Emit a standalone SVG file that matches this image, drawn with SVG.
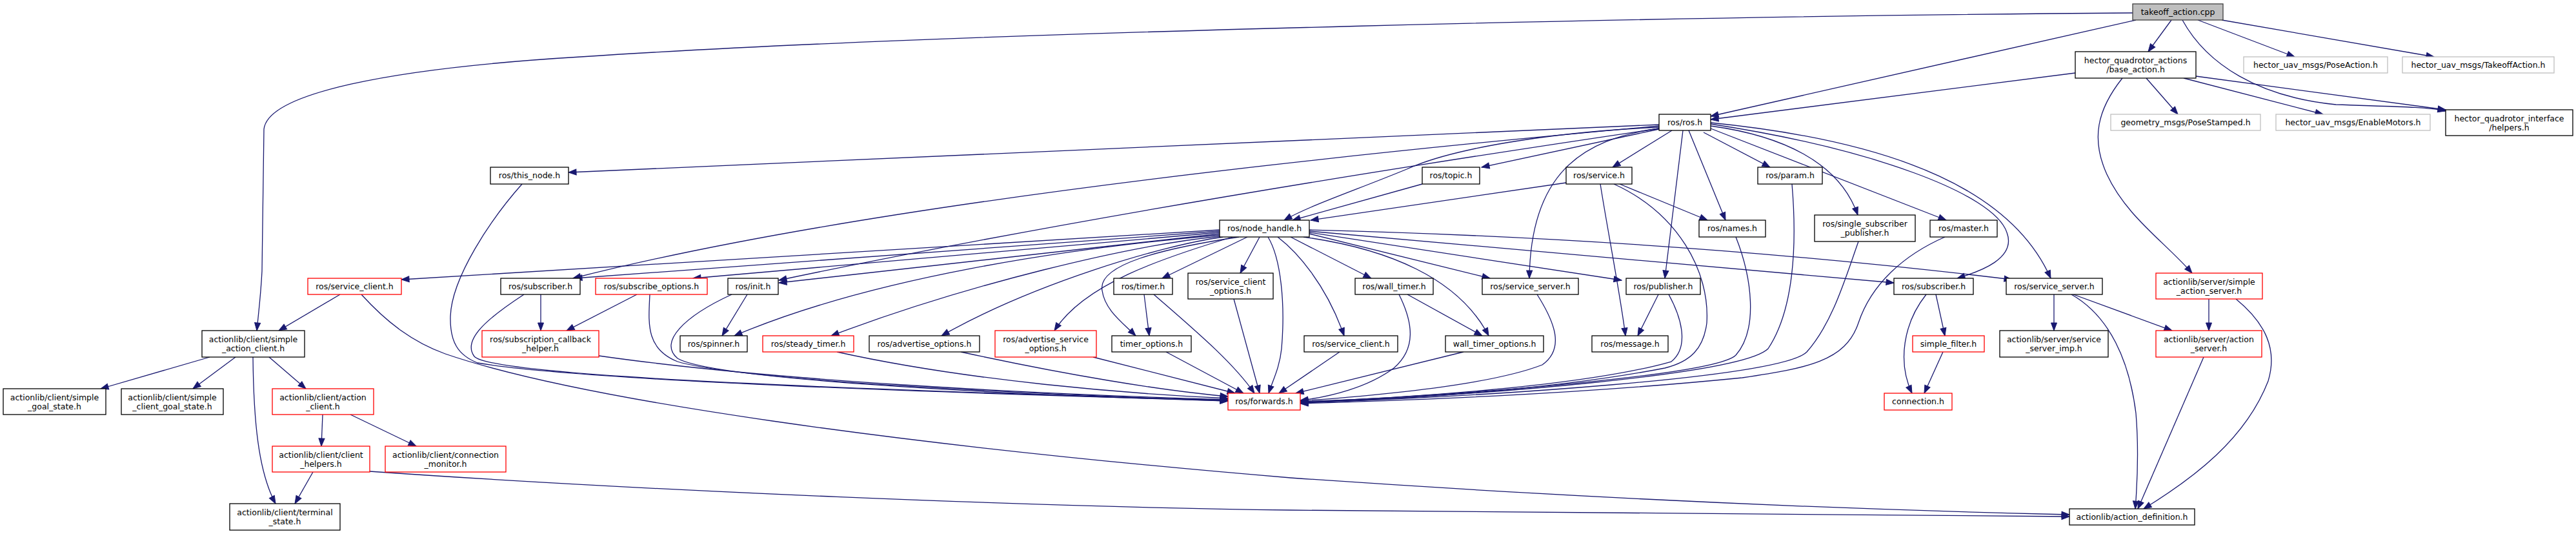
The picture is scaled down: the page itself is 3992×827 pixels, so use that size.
<svg xmlns="http://www.w3.org/2000/svg" width="3992" height="827" viewBox="0 0 3992 827">
<style>
rect{fill:#fff;stroke:#000;stroke-width:1.3}
.r rect{stroke:#ff0000}
.g rect{stroke:#bfbfbf}
.root rect{fill:#bfbfbf;stroke:#404040}
text{font-family:"DejaVu Sans","Liberation Sans",sans-serif;font-size:12.5px;text-anchor:middle;fill:#000}
#edges path{fill:none;stroke:#191970;stroke-width:1.3;marker-end:url(#a)}
</style>
<defs>
<marker id="a" markerUnits="userSpaceOnUse" markerWidth="14" markerHeight="11" refX="12" refY="4.5" orient="auto" overflow="visible">
<path d="M0,0 L12,4.5 L0,9 z" fill="#191970" stroke="#191970" stroke-width="1"/>
</marker>
</defs>
<rect x="0" y="0" width="3992" height="827" style="fill:#fff;stroke:none"/>
<g id="edges">
<path d="M3305,20 C2700,24 1500,48 900,88 C600,106 415,145 409,200 L406,420 C404,460 400,490 398,512"/>
<path d="M3310,31 L2651,180"/>
<path d="M3216,113 L2651,185"/>
<path d="M3365,31 L3329,80"/>
<path d="M3382,31 C3420,100 3500,150 3620,162 C3700,165 3760,165 3790,172"/>
<path d="M3406,31 L3556,88"/>
<path d="M3443,31 L3772,88"/>
<path d="M3326,121 L3375,177"/>
<path d="M3384,121 L3600,177"/>
<path d="M3403,118 L3790,170"/>
<path d="M3289,121 C3250,170 3240,215 3265,270 C3295,335 3355,375 3397,423"/>
<path d="M2571,193 L881,267"/>
<path d="M2571,200 L2296,259"/>
<path d="M2591,202 L2499,259"/>
<path d="M2571,197 C2400,205 2250,230 2180,262 C2100,295 2030,318 1990,341"/>
<path d="M2617,202 L2674,341"/>
<path d="M2640,205 L2743,259"/>
<path d="M2651,195 C2760,210 2850,250 2879,333"/>
<path d="M2651,199 L3016,341"/>
<path d="M2651,192 C2900,230 3090,300 3110,360 C3125,400 3070,420 3033,431"/>
<path d="M2651,190 C2950,220 3120,300 3178,431"/>
<path d="M2608,202 L2580,431"/>
<path d="M2571,199 C2450,215 2372,270 2370,431"/>
<path d="M2571,195 Q1400,300 888,431"/>
<path d="M2571,199 Q1750,320 1207,434"/>
<path d="M1890,356 L622,433"/>
<path d="M1890,358 L890,431"/>
<path d="M1890,360 L1074,431"/>
<path d="M1890,362 L1207,438"/>
<path d="M1890,364 C1650,385 1350,430 1138,520"/>
<path d="M1890,366 C1750,380 1500,440 1288,520"/>
<path d="M1895,367 C1800,380 1600,440 1459,520"/>
<path d="M1910,367 C1800,400 1680,440 1634,512"/>
<path d="M1920,367 C1800,385 1700,410 1708,450 C1712,480 1740,500 1760,520"/>
<path d="M1933,367 L1801,431"/>
<path d="M1952,367 L1922,423"/>
<path d="M1965,367 C1985,400 1992,470 1986,540 C1983,570 1972,590 1966,609"/>
<path d="M2000,367 L2125,431"/>
<path d="M1980,367 C2010,390 2055,440 2083,520"/>
<path d="M2020,367 C2150,385 2260,430 2307,520"/>
<path d="M2029,362 L2309,431"/>
<path d="M2029,360 L2513,434"/>
<path d="M2029,358 L2935,438"/>
<path d="M2029,356 Q2600,370 3118,433"/>
<path d="M809,285 C760,340 700,430 698,490 C697,530 710,550 740,562 C900,590 1500,610 1903,620"/>
<path d="M812,456 C760,490 715,525 735,552 C760,580 1200,600 1903,620"/>
<path d="M1007,456 C1005,500 1000,540 1050,560 C1150,590 1600,610 1903,621"/>
<path d="M1134,456 C1060,490 1020,530 1050,555 C1100,585 1500,610 1903,621"/>
<path d="M928,551 C1200,590 1600,610 1903,619"/>
<path d="M1297,545 C1500,590 1750,610 1903,617"/>
<path d="M1489,545 C1650,580 1800,605 1903,614"/>
<path d="M1694,553 L1914,609"/>
<path d="M1807,545 L1927,609"/>
<path d="M1788,456 C1850,510 1910,560 1944,609"/>
<path d="M1912,463 L1952,609"/>
<path d="M2076,545 L1982,609"/>
<path d="M2268,545 L2008,609"/>
<path d="M2168,456 C2190,500 2195,540 2160,570 C2120,600 2060,615 2015,620"/>
<path d="M2382,456 C2410,500 2425,540 2390,565 C2300,600 2100,615 2015,621"/>
<path d="M2586,456 C2610,500 2615,540 2590,560 C2450,600 2150,618 2015,622"/>
<path d="M2501,285 C2600,330 2650,420 2645,500 C2640,540 2620,560 2580,570 C2400,605 2150,620 2015,623"/>
<path d="M2690,367 C2715,430 2725,510 2690,550 C2660,580 2300,610 2015,623"/>
<path d="M2777,285 C2785,380 2780,480 2740,540 C2700,580 2300,612 2015,624"/>
<path d="M2880,374 C2860,430 2840,500 2800,545 C2760,585 2300,614 2015,624"/>
<path d="M3014,367 C2950,395 2900,440 2880,500 C2860,560 2800,570 2700,585 C2400,615 2100,622 2015,625"/>
<path d="M2427,283 L2031,341"/>
<path d="M2204,285 L2003,341"/>
<path d="M2510,285 L2646,341"/>
<path d="M2480,285 C2490,350 2510,450 2519,520"/>
<path d="M2570,456 L2538,520"/>
<path d="M2181,456 L2297,520"/>
<path d="M1773,456 L1781,520"/>
<path d="M1158,456 L1119,520"/>
<path d="M838,456 L838,512"/>
<path d="M987,456 L878,512"/>
<path d="M527,456 L432,512"/>
<path d="M560,456 C600,500 640,530 690,548 C900,620 1400,690 2000,740 C2500,775 2900,790 3207,797"/>
<path d="M573,730 C1000,760 1600,785 2000,790 C2600,797 3000,799 3207,800"/>
<path d="M325,553 L156,602"/>
<path d="M365,553 L299,602"/>
<path d="M417,553 L474,602"/>
<path d="M392,553 C393,650 400,730 427,780"/>
<path d="M500,642 L498,691"/>
<path d="M543,642 L645,691"/>
<path d="M485,731 L457,780"/>
<path d="M3000,456 L3014,520"/>
<path d="M2985,456 C2950,500 2940,560 2963,609"/>
<path d="M3011,545 L2982,609"/>
<path d="M3183,456 L3183,512"/>
<path d="M3213,456 L3366,512"/>
<path d="M3210,456 C3270,490 3300,560 3310,640 C3315,700 3312,750 3309,788"/>
<path d="M3423,463 L3423,512"/>
<path d="M3465,463 C3510,500 3530,540 3515,590 C3480,680 3400,740 3322,788"/>
<path d="M3415,553 L3313,788"/>
</g>
<g id="n1" class="root"><rect x="3305" y="6" width="140" height="25"/><text x="3375" y="23">takeoff_action.cpp</text></g>
<g id="n2"><rect x="3216" y="80" width="187" height="41"/><text x="3309.5" y="98">hector_quadrotor_actions</text><text x="3309.5" y="112">/base_action.h</text></g>
<g id="n3"><rect x="2571" y="177" width="80" height="25"/><text x="2611" y="194">ros/ros.h</text></g>
<g id="n4" class="g"><rect x="3477" y="88" width="223" height="25"/><text x="3588.5" y="105">hector_uav_msgs/PoseAction.h</text></g>
<g id="n5" class="g"><rect x="3723" y="88" width="235" height="25"/><text x="3840.5" y="105">hector_uav_msgs/TakeoffAction.h</text></g>
<g id="n6" class="g"><rect x="3271" y="177" width="232" height="25"/><text x="3387" y="194">geometry_msgs/PoseStamped.h</text></g>
<g id="n7" class="g"><rect x="3527" y="177" width="239" height="25"/><text x="3646.5" y="194">hector_uav_msgs/EnableMotors.h</text></g>
<g id="n8"><rect x="3790" y="170" width="197" height="40"/><text x="3888.5" y="188">hector_quadrotor_interface</text><text x="3888.5" y="202">/helpers.h</text></g>
<g id="n9"><rect x="760" y="259" width="121" height="26"/><text x="820.5" y="276">ros/this_node.h</text></g>
<g id="n10"><rect x="2204" y="259" width="89" height="26"/><text x="2248.5" y="276">ros/topic.h</text></g>
<g id="n11"><rect x="2427" y="259" width="102" height="26"/><text x="2478" y="276">ros/service.h</text></g>
<g id="n12"><rect x="2724" y="259" width="100" height="26"/><text x="2774" y="276">ros/param.h</text></g>
<g id="n13"><rect x="1890" y="341" width="139" height="26"/><text x="1959.5" y="358">ros/node_handle.h</text></g>
<g id="n14"><rect x="2633" y="341" width="103" height="26"/><text x="2684.5" y="358">ros/names.h</text></g>
<g id="n15"><rect x="2812" y="333" width="156" height="41"/><text x="2890" y="351">ros/single_subscriber</text><text x="2890" y="365">_publisher.h</text></g>
<g id="n16"><rect x="2991" y="341" width="104" height="26"/><text x="3043" y="358">ros/master.h</text></g>
<g id="n17" class="r"><rect x="477" y="431" width="145" height="25"/><text x="549.5" y="448">ros/service_client.h</text></g>
<g id="n18"><rect x="776" y="431" width="123" height="25"/><text x="837.5" y="448">ros/subscriber.h</text></g>
<g id="n19" class="r"><rect x="923" y="431" width="173" height="25"/><text x="1009.5" y="448">ros/subscribe_options.h</text></g>
<g id="n20"><rect x="1128" y="431" width="78" height="25"/><text x="1167" y="448">ros/init.h</text></g>
<g id="n21"><rect x="1726" y="431" width="91" height="25"/><text x="1771.5" y="448">ros/timer.h</text></g>
<g id="n22"><rect x="1841" y="423" width="132" height="40"/><text x="1907" y="441">ros/service_client</text><text x="1907" y="455">_options.h</text></g>
<g id="n23"><rect x="2100" y="431" width="121" height="25"/><text x="2160.5" y="448">ros/wall_timer.h</text></g>
<g id="n24"><rect x="2297" y="431" width="149" height="25"/><text x="2371.5" y="448">ros/service_server.h</text></g>
<g id="n25"><rect x="2520" y="431" width="115" height="25"/><text x="2577.5" y="448">ros/publisher.h</text></g>
<g id="n26"><rect x="2935" y="431" width="123" height="25"/><text x="2996.5" y="448">ros/subscriber.h</text></g>
<g id="n27"><rect x="3109" y="431" width="149" height="25"/><text x="3183.5" y="448">ros/service_server.h</text></g>
<g id="n28" class="r"><rect x="3341" y="423" width="165" height="40"/><text x="3423.5" y="441">actionlib/server/simple</text><text x="3423.5" y="455">_action_server.h</text></g>
<g id="n29"><rect x="313" y="512" width="159" height="41"/><text x="392.5" y="530">actionlib/client/simple</text><text x="392.5" y="544">_action_client.h</text></g>
<g id="n30" class="r"><rect x="747" y="512" width="181" height="41"/><text x="837.5" y="530">ros/subscription_callback</text><text x="837.5" y="544">_helper.h</text></g>
<g id="n31"><rect x="1054" y="520" width="104" height="25"/><text x="1106" y="537">ros/spinner.h</text></g>
<g id="n32" class="r"><rect x="1182" y="520" width="141" height="25"/><text x="1252.5" y="537">ros/steady_timer.h</text></g>
<g id="n33"><rect x="1347" y="520" width="171" height="25"/><text x="1432.5" y="537">ros/advertise_options.h</text></g>
<g id="n34" class="r"><rect x="1542" y="512" width="157" height="41"/><text x="1620.5" y="530">ros/advertise_service</text><text x="1620.5" y="544">_options.h</text></g>
<g id="n35"><rect x="1723" y="520" width="123" height="25"/><text x="1784.5" y="537">timer_options.h</text></g>
<g id="n36"><rect x="2021" y="520" width="145" height="25"/><text x="2093.5" y="537">ros/service_client.h</text></g>
<g id="n37"><rect x="2240" y="520" width="152" height="25"/><text x="2316" y="537">wall_timer_options.h</text></g>
<g id="n38"><rect x="2467" y="520" width="118" height="25"/><text x="2526" y="537">ros/message.h</text></g>
<g id="n39" class="r"><rect x="2964" y="520" width="111" height="25"/><text x="3019.5" y="537">simple_filter.h</text></g>
<g id="n40"><rect x="3099" y="512" width="168" height="41"/><text x="3183" y="530">actionlib/server/service</text><text x="3183" y="544">_server_imp.h</text></g>
<g id="n41" class="r"><rect x="3341" y="512" width="164" height="41"/><text x="3423" y="530">actionlib/server/action</text><text x="3423" y="544">_server.h</text></g>
<g id="n42"><rect x="5" y="602" width="159" height="40"/><text x="84.5" y="620">actionlib/client/simple</text><text x="84.5" y="634">_goal_state.h</text></g>
<g id="n43"><rect x="188" y="602" width="158" height="40"/><text x="267" y="620">actionlib/client/simple</text><text x="267" y="634">_client_goal_state.h</text></g>
<g id="n44" class="r"><rect x="422" y="602" width="157" height="40"/><text x="500.5" y="620">actionlib/client/action</text><text x="500.5" y="634">_client.h</text></g>
<g id="n45" class="r"><rect x="1903" y="609" width="112" height="26"/><text x="1959" y="626">ros/forwards.h</text></g>
<g id="n46" class="r"><rect x="2920" y="609" width="105" height="26"/><text x="2972.5" y="626">connection.h</text></g>
<g id="n47" class="r"><rect x="422" y="691" width="151" height="40"/><text x="497.5" y="709">actionlib/client/client</text><text x="497.5" y="723">_helpers.h</text></g>
<g id="n48" class="r"><rect x="597" y="691" width="187" height="40"/><text x="690.5" y="709">actionlib/client/connection</text><text x="690.5" y="723">_monitor.h</text></g>
<g id="n49"><rect x="356" y="780" width="171" height="41"/><text x="441.5" y="798">actionlib/client/terminal</text><text x="441.5" y="812">_state.h</text></g>
<g id="n50"><rect x="3207" y="788" width="194" height="25"/><text x="3304" y="805">actionlib/action_definition.h</text></g>
</svg>
